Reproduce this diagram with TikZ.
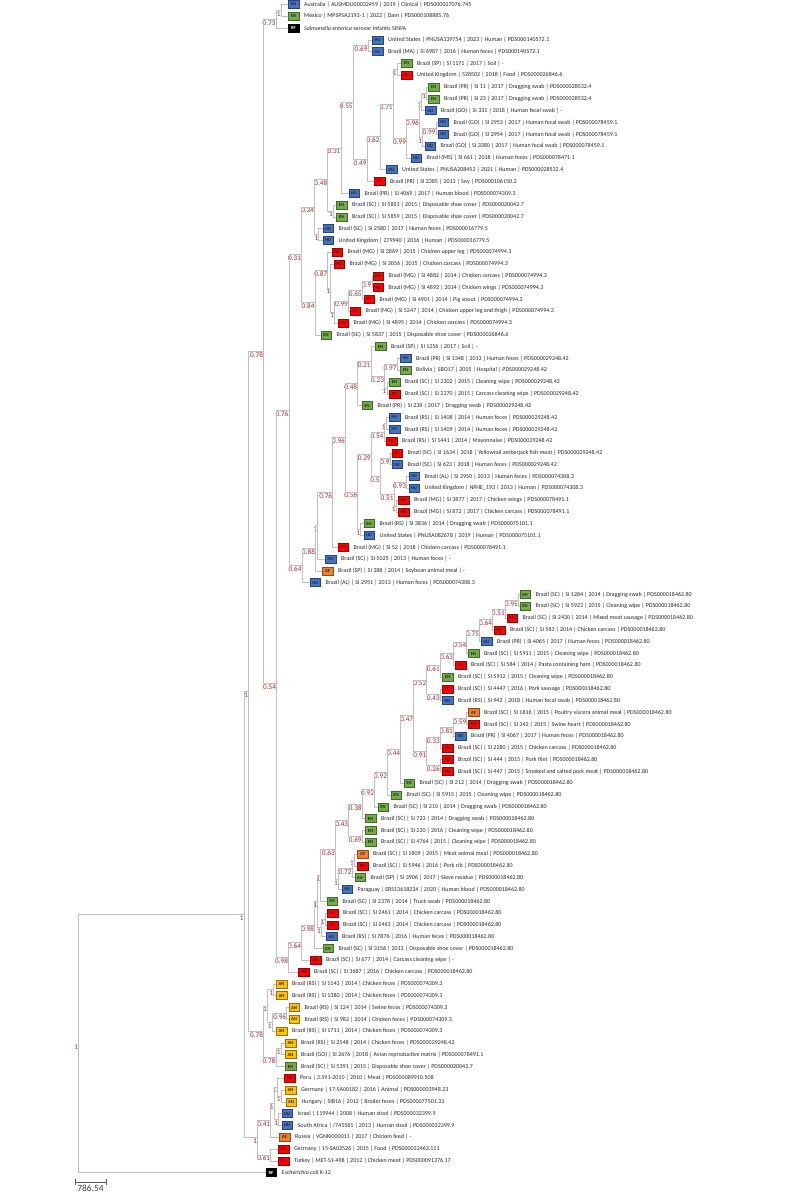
\documentclass[tikz,border=0pt]{standalone}
\usepackage{fontspec}
\setmainfont{Carlito}
\usetikzlibrary{positioning,calc}

\definecolor{HU}{HTML}{4472C4}
\definecolor{EN}{HTML}{70AD47}
\definecolor{FO}{HTML}{FF0000}
\definecolor{AF}{HTML}{ED7D31}
\definecolor{AN}{HTML}{FFC000}
\definecolor{RF}{HTML}{000000}
\colorlet{txHU}{black!85}
\colorlet{txEN}{black!85}
\colorlet{txFO}{black!85}
\colorlet{txAF}{black!85}
\colorlet{txAN}{black!85}
\colorlet{txRF}{white}
\definecolor{linegray}{HTML}{BFBFBF}
\definecolor{suppred}{HTML}{A5282D}

\begin{document}
\begin{tikzpicture}[x=1pt, y=-1pt,
  tag/.style={fill=#1, draw=#1!60!black, text=tx#1, line width=0.5pt, anchor=west,
    minimum width=10.5pt, minimum height=8pt, inner sep=0pt,
    font=\fontsize{4.6}{5}\selectfont\bfseries},
  leaf/.style={inner sep=0pt, text=black!85, font=\fontsize{6}{7}\selectfont},
  supp/.style={anchor=east, inner sep=0.4pt, yshift=-3.5pt, text=suppred,
    font=\fontsize{7.2}{8}\selectfont},
  branch/.style={draw=linegray, line width=0.8pt}]

  \useasboundingbox (0,0) rectangle (786,1200);

  % leaves: row / box x / source / label
  \foreach \i/\x/\t/\s in {
    1/288/HU/{Australia | AUSMDU00032459 | 2019 | Clinical | PDS000027076.745},
    2/288/EN/{Mexico | MPSPSA2193-1 | 2022 | Dam | PDS000108885.76},
    3/288/RF/{\textit{Salmonella enterica} serovar Infantis SINFA},
    4/372/HU/{United States | PNUSA339754 | 2023 | Human | PDS000140572.1},
    5/372/HU/{Brazil (MA) | SI 6987 | 2016 | Human feces | PDS000140572.1},
    6/401/EN/{Brazil (SP) | SI 1171 | 2017 | Soil | -},
    7/401/FO/{United Kingdom | 528502 | 2018 | Food | PDS000026846.6},
    8/428/EN/{Brazil (PR) | SI 11 | 2017 | Dragging swab | PDS000028532.4},
    9/428/EN/{Brazil (PR) | SI 23 | 2017 | Dragging swab | PDS000028532.4},
    10/425/HU/{Brazil (GO) | SI 331 | 2018 | Human fecal swab | -},
    11/437.5/HU/{Brazil (GO) | SI 2953 | 2017 | Human fecal swab | PDS000078459.1},
    12/437.5/HU/{Brazil (GO) | SI 2954 | 2017 | Human fecal swab | PDS000078459.1},
    13/424.5/HU/{Brazil (GO) | SI 3380 | 2017 | Human fecal swab | PDS000078459.1},
    14/410.5/HU/{Brazil (MS) | SI 661 | 2018 | Human feces | PDS000078471.1},
    15/386/HU/{United States | PNUSA208452 | 2021 | Human | PDS000028532.4},
    16/374/FO/{Brazil (PR) | SI 2385 | 2013 | Soy | PDS000106150.2},
    17/348.5/HU/{Brazil (PR) | SI 4069 | 2017 | Human blood | PDS000074309.3},
    18/336/EN/{Brazil (SC) | SI 5853 | 2015 | Disposable shoe cover | PDS000020042.7},
    19/336/EN/{Brazil (SC) | SI 5859 | 2015 | Disposable shoe cover | PDS000020042.7},
    20/322.5/HU/{Brazil (SC) | SI 2580 | 2017 | Human feces | PDS000016779.5},
    21/322.5/HU/{United Kingdom | 279940 | 2016 | Human | PDS000016779.5},
    22/331.5/FO/{Brazil (MG) | SI 2869 | 2015 | Chicken upper leg | PDS000074994.3},
    23/333.5/FO/{Brazil (MG) | SI 3056 | 2015 | Chicken carcass | PDS000074994.3},
    24/372.5/FO/{Brazil (MG) | SI 4882 | 2014 | Chicken carcass | PDS000074994.3},
    25/372.5/FO/{Brazil (MG) | SI 4892 | 2014 | Chicken wings | PDS000074994.3},
    26/363.5/FO/{Brazil (MG) | SI 4901 | 2014 | Pig snout | PDS000074994.3},
    27/349.5/FO/{Brazil (MG) | SI 5247 | 2014 | Chicken upper leg and thigh | PDS000074994.3},
    28/337.5/FO/{Brazil (MG) | SI 4895 | 2014 | Chicken carcass | PDS000074994.3},
    29/320.5/EN/{Brazil (SC) | SI 5837 | 2015 | Disposable shoe cover | PDS000026846.6},
    30/375/EN/{Brazil (SP) | SI 1256 | 2017 | Soil | -},
    31/400/HU/{Brazil (PR) | SI 1348 | 2013 | Human feces | PDS000029248.42},
    32/400/EN/{Bolivia | SBO17 | 2015 | Hospital | PDS000029248.42},
    33/389/EN/{Brazil (SC) | SI 2302 | 2015 | Cleaning wipe | PDS000029248.42},
    34/389/FO/{Brazil (SC) | SI 2370 | 2015 | Carcass cleaning wipe | PDS000029248.42},
    35/361.5/EN/{Brazil (PR) | SI 238 | 2017 | Dragging swab | PDS000029248.42},
    36/389/HU/{Brazil (RS) | SI 1408 | 2014 | Human feces | PDS000029248.42},
    37/389/HU/{Brazil (RS) | SI 1409 | 2014 | Human feces | PDS000029248.42},
    38/386/FO/{Brazil (RS) | SI 1441 | 2014 | Mayonnaise | PDS000029248.42},
    39/391.5/FO/{Brazil (SC) | SI 1634 | 2018 | Yellowtail amberjack fish meat | PDS000029248.42},
    40/391.5/HU/{Brazil (SC) | SI 623 | 2018 | Human feces | PDS000029248.42},
    41/408.5/HU/{Brazil (AL) | SI 2950 | 2013 | Human feces | PDS000074308.3},
    42/408.5/HU/{United Kingdom | NPHE\_193 | 2013 | Human | PDS000074308.3},
    43/398/FO/{Brazil (MG) | SI 3877 | 2017 | Chicken wings | PDS000078491.1},
    44/398/FO/{Brazil (MG) | SI 872 | 2017 | Chicken carcass | PDS000078491.1},
    45/363.5/EN/{Brazil (RS) | SI 3836 | 2014 | Dragging swab | PDS000075101.1},
    46/363.5/HU/{United States | PNUSA082678 | 2019 | Human | PDS000075101.1},
    47/337.5/FO/{Brazil (MG) | SI 52 | 2018 | Chicken carcass | PDS000078491.1},
    48/325/HU/{Brazil (SC) | SI 5025 | 2013 | Human feces | -},
    49/322/AF/{Brazil (SP) | SI 388 | 2014 | Soybean animal meal | -},
    50/309.5/HU/{Brazil (AL) | SI 2951 | 2013 | Human feces | PDS000074308.3},
    51/519.5/EN/{Brazil (SC) | SI 1284 | 2014 | Dragging swab | PDS000018462.80},
    52/519.5/EN/{Brazil (SC) | SI 5923 | 2015 | Cleaning wipe | PDS000018462.80},
    53/506.5/FO/{Brazil (SC) | SI 2430 | 2014 | Mixed meat sausage | PDS000018462.80},
    54/494/FO/{Brazil (SC) | SI 583 | 2014 | Chicken carcass | PDS000018462.80},
    55/481/HU/{Brazil (PR) | SI 4065 | 2017 | Human feces | PDS000018462.80},
    56/468/EN/{Brazil (SC) | SI 5911 | 2015 | Cleaning wipe | PDS000018462.80},
    57/455/FO/{Brazil (SC) | SI 584 | 2014 | Pasta containing ham | PDS000018462.80},
    58/442/EN/{Brazil (SC) | SI 5912 | 2015 | Cleaning wipe | PDS000018462.80},
    59/442/FO/{Brazil (SC) | SI 4447 | 2016 | Pork sausage | PDS000018462.80},
    60/442/HU/{Brazil (RS) | SI 942 | 2018 | Human fecal swab | PDS000018462.80},
    61/468/AF/{Brazil (SC) | SI 1816 | 2015 | Poultry viscera animal meal | PDS000018462.80},
    62/468/FO/{Brazil (SC) | SI 342 | 2015 | Swine heart | PDS000018462.80},
    63/455/HU/{Brazil (PR) | SI 4067 | 2017 | Human feces | PDS000018462.80},
    64/442/FO/{Brazil (SC) | SI 2280 | 2015 | Chicken carcass | PDS000018462.80},
    65/442/FO/{Brazil (SC) | SI 444 | 2015 | Pork filet | PDS000018462.80},
    66/442/FO/{Brazil (SC) | SI 447 | 2015 | Smoked and salted pork meat | PDS000018462.80},
    67/403.5/EN/{Brazil (SC) | SI 212 | 2014 | Dragging swab | PDS000018462.80},
    68/390.5/EN/{Brazil (SC) | SI 5915 | 2015 | Cleaning wipe | PDS000018462.80},
    69/377.5/EN/{Brazil (SC) | SI 210 | 2014 | Dragging swab | PDS000018462.80},
    70/365/EN/{Brazil (SC) | SI 723 | 2014 | Dragging swab | PDS000018462.80},
    71/365/EN/{Brazil (SC) | SI 220 | 2016 | Cleaning wipe | PDS000018462.80},
    72/365/EN/{Brazil (SC) | SI 4764 | 2015 | Cleaning wipe | PDS000018462.80},
    73/357/AF/{Brazil (SC) | SI 1809 | 2015 | Meat animal meal | PDS000018462.80},
    74/357/FO/{Brazil (SC) | SI 5946 | 2016 | Pork rib | PDS000018462.80},
    75/354.5/EN/{Brazil (SP) | SI 3906 | 2017 | Sieve residue | PDS000018462.80},
    76/341.5/HU/{Paraguay | ERS13618234 | 2020 | Human blood | PDS000018462.80},
    77/326.5/EN/{Brazil (SC) | SI 2378 | 2014 | Truck swab | PDS000018462.80},
    78/327/FO/{Brazil (SC) | SI 2461 | 2014 | Chicken carcass | PDS000018462.80},
    79/327/FO/{Brazil (SC) | SI 2463 | 2014 | Chicken carcass | PDS000018462.80},
    80/326/HU/{Brazil (RS) | SI 7876 | 2016 | Human feces | PDS000018462.80},
    81/322.5/EN/{Brazil (SC) | SI 3156 | 2013 | Disposable shoe cover | PDS000018462.80},
    82/310/FO/{Brazil (SC) | SI 677 | 2014 | Carcass cleaning wipe | -},
    83/298/FO/{Brazil (SC) | SI 3687 | 2016 | Chicken carcass | PDS000018462.80},
    84/276/AN/{Brazil (RS) | SI 1143 | 2014 | Chicken feces | PDS000074309.3},
    85/276/AN/{Brazil (RS) | SI 1380 | 2014 | Chicken feces | PDS000074309.3},
    86/288.5/AN/{Brazil (RS) | SI 124 | 2014 | Swine feces | PDS000074309.3},
    87/288.5/AN/{Brazil (RS) | SI 982 | 2014 | Chicken feces | PDS000074309.3},
    88/276/AN/{Brazil (RS) | SI 1711 | 2014 | Chicken feces | PDS000074309.3},
    89/285/AN/{Brazil (RS) | SI 2548 | 2014 | Chicken feces | PDS000029248.42},
    90/285/AN/{Brazil (GO) | SI 2676 | 2018 | Avian reproductive matrix | PDS000078491.1},
    91/285/EN/{Brazil (SC) | SI 5391 | 2015 | Disposable shoe cover | PDS000020042.7},
    92/284/FO/{Peru | 3.591-2010 | 2010 | Meat | PDS000089910.508},
    93/285/AN/{Germany | 17-SA00182 | 2016 | Animal | PDS000003948.23},
    94/285.5/AN/{Hungary | SIB16 | 2012 | Broiler feces | PDS000077501.33},
    95/281.5/HU/{Israel | 119944 | 2008 | Human stool | PDS000032399.9},
    96/281.5/HU/{South Africa | /741581 | 2013 | Human stool | PDS000032399.9},
    97/279/AF/{Russia | VGNKI000011 | 2017 | Chicken feed | -},
    98/278/FO/{Germany | 15-SA02526 | 2015 | Food | PDS000032463.111},
    99/278/FO/{Turkey | MET-S1-498 | 2012 | Chicken meat | PDS000091376.17},
    100/265.5/RF/{\textit{Escherichia coli} K-12}} {
    \node[tag=\t] (l\i) at (\x,{4.5+(\i-1)*11.8}) {\t};
    \node[leaf, right=5pt of l\i] (t\i) {\s};
  }

  % clades: name / x of the split / two children / support
  \foreach \nm/\xp/\ca/\cb/\sv in {
    a12/281/l1/l2/1, cA/276/a12/l3/0.73,
    b45/368/l4/l5/0.69, b67/397/l6/l7/1, b89/426.5/l8/l9/1, b810/421.6/b89/l10/1,
    b1112/436/l11/l12/0.99, b1113/422.7/b1112/l13/1, b813/419.4/b810/b1113/0.96,
    b814/406.6/b813/l14/0.99, b614/393.2/b67/b814/0.71, b615/380.1/b614/l15/0.62,
    b616/367/b615/l16/0.49, b416/353.2/b45/b616/0.55, b417/340.9/b416/l17/0.31,
    b1819/333.4/l18/l19/1, b419/327.8/b417/b1819/0.48, b2021/318.8/l20/l21/1,
    b421/314.7/b419/b2021/0.24,
    b2425/371.9/l24/l25/0.9, b2426/362.2/b2425/l26/0.65, b2427/348.4/b2426/l27/0.99,
    b2428/334.5/b2427/l28/1, b2328/330.8/l23/b2428/1, b2228/327.8/l22/b2328/0.87,
    b2229/315.1/b2228/l29/0.84, b429/301.6/b421/b2229/0.31,
    b3132/397/l31/l32/0.97, b3334/386.9/l33/l34/1, b3134/384.6/b3132/b3334/0.23,
    b3034/371.2/l30/b3134/0.21, b3035/357.7/b3034/l35/0.48,
    b3637/386.1/l36/l37/1, b3638/383.9/b3637/l38/0.54, b3940/390.2/l39/l40/0.9,
    b4142/406.6/l41/l42/0.93, b4344/396.2/l43/l44/1, b4144/394/b4142/b4344/0.51,
    b3944/380.1/b3940/b4144/0.5, b3644/371.2/b3638/b3944/0.29,
    b4546/360.7/l45/l46/1, b3646/357.7/b3644/b4546/0.56, b3046/345.4/b3035/b3646/0.96,
    b3047/332.7/b3046/l47/0.76, b3048/317.7/b3047/l48/1, b3049/315.5/b3048/l49/0.88,
    b3050/302/b3049/l50/0.64, cB/288.9/b429/b3050/0.76,
    c5152/518.4/l51/l52/0.95, c5153/505.3/c5152/l53/0.51, c5154/492.6/c5153/l54/0.64,
    c5155/479.5/c5154/l55/0.75, c5156/466.8/c5155/l56/0.54, c5157/453.7/c5156/l57/0.63,
    c5158/440.3/c5157/l58/0.61, c5960/440.3/l59/l60/0.43, c5160/426.8/c5158/c5960/0.52,
    c6162/466.8/l61/l62/0.59, c6163/453.4/c6162/l63/0.81, c6164/440.3/c6163/l64/0.33,
    c6566/440.3/l65/l66/0.26, c6166/426.8/c6164/c6566/0.91, c5166/413.7/c5160/c6166/0.47,
    c5167/400.7/c5166/l67/0.44, c5168/387.6/c5167/l68/0.92, c5169/374.5/c5168/l69/0.92,
    c5170/362.2/c5169/l70/0.38, c7172/362.2/l71/l72/0.69, c5172/348.7/c5170/c7172/0.43,
    c7374/354.3/l73/l74/1, c7375/352.1/c7374/l75/0.72, c7376/338.3/c7375/l76/1,
    c5176/335.3/c5172/c7376/0.63, c5177/320.7/c5176/l77/1,
    c7879/325.2/l78/l79/1, c7880/321.4/c7879/l80/1, c5180/317.7/c5177/c7880/1,
    c5181/314.7/c5180/l81/0.98, c5182/301.6/c5181/l82/0.64, cC/288.6/c5182/l83/0.98,
    d8485/273.6/l84/l85/1, d8687/286.7/l86/l87/0.96, d8688/272.1/d8687/l88/1,
    d8488/267.3/d8485/d8688/1, d8990/281.1/l89/l90/1, d8991/275.9/d8990/l91/0.78,
    cD/263.5/d8488/d8991/0.78,
    e9394/281/l93/l94/1, e9294/277/l92/e9394/1, e9596/278.7/l95/l96/1,
    e9296/274.2/e9294/e9596/1, e9297/270.7/e9296/l97/0.41, e9899/270.7/l98/l99/0.61,
    cE/257.6/e9297/e9899/1,
    cBC/276.6/cB/cC/0.54, cABC/263.5/cA/cBC/0.78, cABCD/248.6/cABC/cD/1,
    cIn/244.1/cABCD/cE/1, root/78.7/cIn/l100/1} {
    \path let \p1 = ($(\ca)!0.5!(\cb)$) in coordinate (\nm) at (\xp pt,\y1);
    \draw[branch] (\nm) |- (\ca) (\nm) |- (\cb);
    \node[supp] at (\nm) {\sv};
  }

  % scale bar
  \coordinate (sb1) at (75,1182);
  \coordinate (sb2) at (106,1182);
  \draw[draw=black!65, line width=0.7pt] ([yshift=3pt]sb1) -- ([yshift=-3pt]sb1)
    (sb1) -- (sb2) ([yshift=3pt]sb2) -- ([yshift=-3pt]sb2);
  \node[text=black!75, font=\fontsize{9.5}{10}\selectfont, inner sep=0pt,
    below=3pt of $(sb1)!0.5!(sb2)$] (sblabel) {786.54};
\end{tikzpicture}
\end{document}
